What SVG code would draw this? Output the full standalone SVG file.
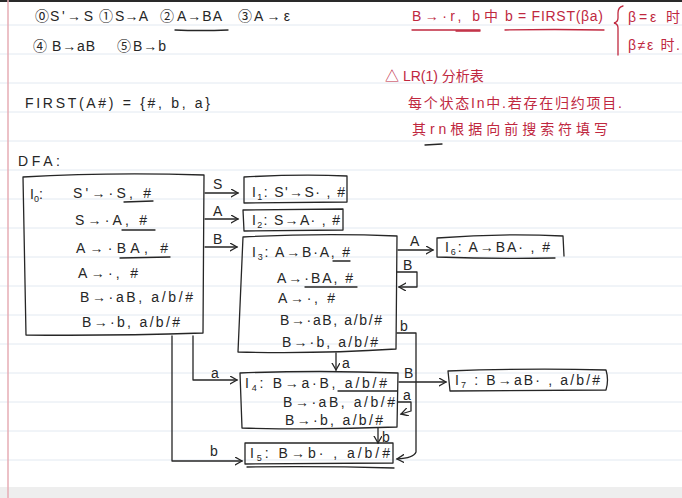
<svg xmlns="http://www.w3.org/2000/svg" width="682" height="498" viewBox="0 0 682 498">
<defs>
<style>
.bg{fill:#ffffff}
.rule{stroke:#e2e9f1;stroke-width:1}
.margin{stroke:#e6acb4;stroke-width:1.5}
.ink{fill:none;stroke:#262626;stroke-width:1.3;stroke-linejoin:round;stroke-linecap:round}
.red{fill:none;stroke:#c0283f;stroke-width:1.3;stroke-linecap:round}
.t{font-family:"Liberation Sans","Noto Sans CJK SC",sans-serif;font-size:14px;fill:#262626}
.r{font-family:"Liberation Sans","Noto Sans CJK SC",sans-serif;font-size:14px;fill:#c0283f}
.lbl{font-family:"Liberation Sans",sans-serif;font-size:14px;fill:#262626}
.sub{font-size:9px}
</style>
<marker id="ah" markerWidth="10" markerHeight="10" refX="7" refY="4" orient="auto" markerUnits="userSpaceOnUse">
<path d="M0,0 L7,4 L0,8" fill="none" stroke="#262626" stroke-width="1.3" stroke-linecap="round"/>
</marker>
</defs>

<g id="paper">
<rect class="bg" x="0" y="0" width="682" height="498"/>
<rect x="0" y="0" width="682" height="2" fill="#2a2a2a"/>
<g>
<line class="rule" x1="0" y1="25" x2="682" y2="25"/>
<line class="rule" x1="0" y1="54" x2="682" y2="54"/>
<line class="rule" x1="0" y1="83" x2="682" y2="83"/>
<line class="rule" x1="0" y1="112" x2="682" y2="112"/>
<line class="rule" x1="0" y1="141" x2="682" y2="141"/>
<line class="rule" x1="0" y1="170" x2="682" y2="170"/>
<line class="rule" x1="0" y1="199" x2="682" y2="199"/>
<line class="rule" x1="0" y1="228" x2="682" y2="228"/>
<line class="rule" x1="0" y1="257" x2="682" y2="257"/>
<line class="rule" x1="0" y1="286" x2="682" y2="286"/>
<line class="rule" x1="0" y1="315" x2="682" y2="315"/>
<line class="rule" x1="0" y1="344" x2="682" y2="344"/>
<line class="rule" x1="0" y1="373" x2="682" y2="373"/>
<line class="rule" x1="0" y1="402" x2="682" y2="402"/>
<line class="rule" x1="0" y1="431" x2="682" y2="431"/>
<line class="rule" x1="0" y1="460" x2="682" y2="460"/>
</g>
<rect x="0" y="487" width="682" height="11" fill="#eeeeee"/>
<line class="margin" x1="8" y1="0" x2="8" y2="498"/>
</g>

<g id="grammar">
<text class="t" x="35" y="21">⓪</text>
<text class="t" x="50" y="21" textLength="43">S'→S</text>
<text class="t" x="99" y="21">①</text>
<text class="t" x="115" y="21" textLength="33">S→A</text>
<text class="t" x="160" y="21">②</text>
<text class="t" x="177" y="21" textLength="45">A→BA</text>
<path class="ink" d="M175,30 Q200,31 228,30"/>
<text class="t" x="238" y="21">③</text>
<text class="t" x="254" y="21" textLength="36">A→ε</text>
<text class="t" x="33" y="51">④</text>
<text class="t" x="52" y="51" textLength="43">B→aB</text>
<text class="t" x="117" y="51">⑤</text>
<text class="t" x="133" y="51" textLength="33">B→b</text>
<text class="t" x="25" y="108" textLength="185">FIRST(A#) = {#, b, a}</text>
<text class="t" x="18" y="166" textLength="42">DFA:</text>
</g>

<g id="notes">
<text class="r" x="412" y="21" textLength="68">B→·r, b</text>
<text class="r" x="484" y="21">中</text>
<path class="red" d="M412,30 L480,30"/>
<path class="red" d="M456,31 L480,31" stroke-width="3"/>
<text class="r" x="505" y="21" textLength="98">b = FIRST(βa)</text>
<path class="red" d="M505,30 Q555,29 604,30"/>
<path class="red" d="M623,6 Q618,7 618,13 L618,18 Q618,22 614,23 Q618,24 618,28 L618,55"/>
<text class="r" x="628" y="22" textLength="52">β=ε 时</text>
<text class="r" x="628" y="50" textLength="52">β≠ε 时.</text>
<text class="r" x="385" y="81" font-size="13">△ LR(1) 分析表</text>
<text class="r" x="408" y="108" textLength="214">每个状态In中.若存在归约项目.</text>
<text class="r" x="412" y="134" textLength="196">其rn根据向前搜索符填写</text>
<path class="ink" d="M425,145 L442,144" stroke-width="2.5"/>
</g>

<g id="I0">
<path class="ink" d="M23,177 Q110,172 204,175 L203,333 Q110,336 26,335 Z"/>
<text class="t" x="30" y="199">I<tspan class="sub" dy="3">0</tspan><tspan dy="-3">:</tspan></text>
<text class="t" x="73" y="198" textLength="78">S'→·S, #</text>
<path class="ink" d="M124,202 L153,201"/>
<text class="t" x="75" y="225" textLength="72">S→·A, #</text>
<path class="ink" d="M122,230 L155,230"/>
<text class="t" x="76" y="253" textLength="92">A→·BA, #</text>
<path class="ink" d="M120,258 L170,257"/>
<text class="t" x="78" y="278" textLength="60">A→·, #</text>
<text class="t" x="80" y="302" textLength="113">B→·aB, a/b/#</text>
<text class="t" x="82" y="327" textLength="98">B→·b, a/b/#</text>
</g>

<g id="I1">
<path class="ink" d="M244,177 Q300,174 347,176 L347,202 L244,203 Z"/>
<text class="t" x="252" y="197" textLength="93">I<tspan class="sub" dy="3">1</tspan><tspan dy="-3">: S'→S· , #</tspan></text>
</g>

<g id="I2">
<path class="ink" d="M243,210 L343,209 L343,230 L244,231 Z"/>
<text class="t" x="252" y="225" textLength="88">I<tspan class="sub" dy="3">2</tspan><tspan dy="-3">: S→A· , #</tspan></text>
</g>

<g id="I3">
<path class="ink" d="M243,237 Q320,233 397,236 L396,349 Q318,354 238,352 Z"/>
<text class="t" x="252" y="257" textLength="98">I<tspan class="sub" dy="3">3</tspan><tspan dy="-3">: A→B·A, #</tspan></text>
<path class="ink" d="M333,261 L350,261"/>
<text class="t" x="277" y="283" textLength="76">A→·BA, #</text>
<path class="ink" d="M305,287 L357,287"/>
<text class="t" x="278" y="303" textLength="57">A→·, #</text>
<text class="t" x="280" y="325" textLength="102">B→·aB, a/b/#</text>
<text class="t" x="282" y="347" textLength="96">B→·b, a/b/#</text>
</g>

<g id="I6">
<path class="ink" d="M437,238 Q500,233 563,236 L564,256 M437,238 L437,257 Q495,259 555,258"/>
<text class="t" x="445" y="252" textLength="105">I<tspan class="sub" dy="3">6</tspan><tspan dy="-3">: A→BA· , #</tspan></text>
</g>

<g id="I4">
<path class="ink" d="M240,373 Q320,370 398,373 L397,427 Q320,430 242,428 Z"/>
<text class="t" x="245" y="388" textLength="142">I<tspan class="sub" dy="3">4</tspan><tspan dy="-3">:  B→a·B, a/b/#</tspan></text>
<path class="ink" d="M338,391 L397,391"/>
<text class="t" x="283" y="407" textLength="112">B→·aB, a/b/#</text>
<text class="t" x="285" y="425" textLength="98">B→·b, a/b/#</text>
</g>

<g id="I7">
<path class="ink" d="M448,371 Q530,368 606,370 Q609,380 606,390 L450,391 Z"/>
<text class="t" x="455" y="385" textLength="145">I<tspan class="sub" dy="3">7</tspan><tspan dy="-3"> : B→aB· , a/b/#</tspan></text>
</g>

<g id="I5">
<path class="ink" d="M245,443 L393,443 L393,463 L245,464 Z"/>
<path class="ink" d="M247,467 Q320,466 394,468"/>
<text class="t" x="250" y="458" textLength="140">I<tspan class="sub" dy="3">5</tspan><tspan dy="-3">: B→b· , a/b/#</tspan></text>
</g>

<g id="connectors">
<path class="ink" d="M205,193 L238,193" marker-end="url(#ah)"/>
<path class="ink" d="M205,219 L238,219" marker-end="url(#ah)"/>
<path class="ink" d="M205,247 L237,247" marker-end="url(#ah)"/>
<path class="ink" d="M398,250 L433,250" marker-end="url(#ah)"/>
<path class="ink" d="M397,272 L417,272 L417,287 L399,287" marker-end="url(#ah)"/>
<path class="ink" d="M397,333 L416,333 L416,452 Q414,458 397,459" marker-end="url(#ah)"/>
<path class="ink" d="M336,353 L336,370" marker-end="url(#ah)"/>
<path class="ink" d="M193,336 L193,380 L237,380" marker-end="url(#ah)"/>
<path class="ink" d="M172,336 L172,461 L242,461" marker-end="url(#ah)"/>
<path class="ink" d="M399,382 L446,382" marker-end="url(#ah)"/>
<path class="ink" d="M398,402 L411,402 L411,411 L401,414" marker-end="url(#ah)"/>
<path class="ink" d="M378,428 L378,443" marker-end="url(#ah)"/>
<text class="lbl" x="213" y="189">S</text>
<text class="lbl" x="213" y="216">A</text>
<text class="lbl" x="213" y="244">B</text>
<text class="lbl" x="410" y="246">A</text>
<text class="lbl" x="403" y="270">B</text>
<text class="lbl" x="400" y="331">b</text>
<text class="lbl" x="342" y="368">a</text>
<text class="lbl" x="211" y="378">a</text>
<text class="lbl" x="210" y="456">b</text>
<text class="lbl" x="404" y="378">B</text>
<text class="lbl" x="403" y="400">a</text>
<text class="lbl" x="382" y="442">b</text>
</g>
</svg>
